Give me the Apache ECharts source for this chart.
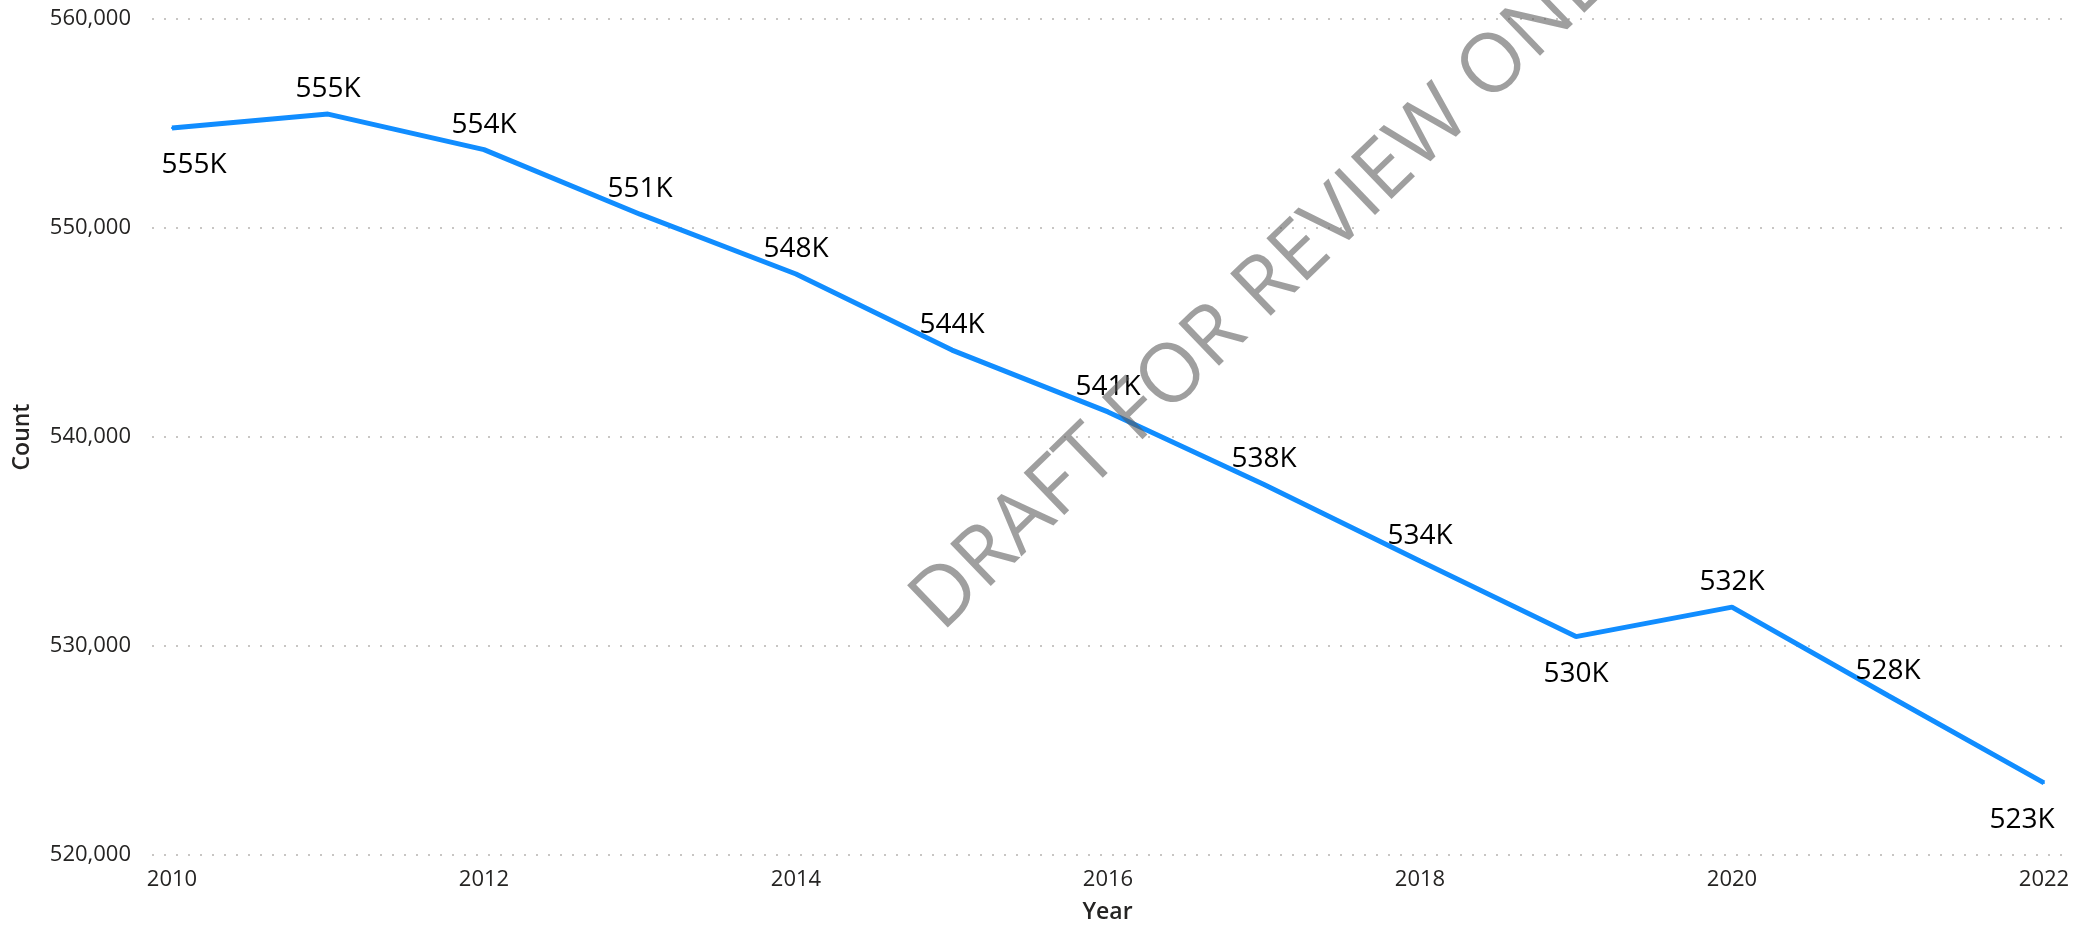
<!DOCTYPE html>
<html>
<head>
<meta charset="utf-8">
<style>
  html, body { margin: 0; padding: 0; background: #fff; }
  #main { width: 2073px; height: 929px; }
</style>
<script src="https://cdn.jsdelivr.net/npm/echarts@6/dist/echarts.min.js"></script>
</head>
<body>
<div id="main"></div>
<script>
// yearly counts
const years = [2010, 2011, 2012, 2013, 2014, 2015, 2016, 2017, 2018, 2019, 2020, 2021, 2022];
const counts = [554780, 555450, 553750, 550660, 547800, 544160, 541200, 537730, 534070, 530450, 531860, 527630, 523450];
const yearTicks = [2010, 2012, 2014, 2016, 2018, 2020, 2022];
const watermarkText = 'DRAFT FOR REVIEW ONLY';

let chart = echarts.init(document.getElementById('main'));

// label goes under the point when it is a local low
function isLow(i) {
  let v = counts[i];
  let prev = i > 0 ? counts[i - 1] : Infinity;
  let next = i < counts.length - 1 ? counts[i + 1] : Infinity;
  return v < prev && v < next;
}

let points = years.map((y, i) => {
  let low = isLow(i);
  let item = {
    value: [y, counts[i]],
    label: { position: low ? 'bottom' : 'top', distance: low ? 22 : 10 }
  };
  if (i === 0) item.label.offset = [22, 0];
  if (i === years.length - 1) item.label.offset = [-22, 0];
  return item;
});

chart.setOption({
  animation: false,
  grid: { left: 152, right: 10, top: 19, bottom: 72, containLabel: false },
  xAxis: {
    type: 'value',
    min: 2009.872,
    max: 2022.122,
    name: 'Year',
    nameLocation: 'middle',
    nameGap: 46,
    nameTextStyle: { fontFamily: 'Open Sans', fontSize: 23, fontWeight: 600, color: '#252423' },
    axisLine: { show: false },
    axisTick: { show: false },
    splitLine: { show: false },
    axisLabel: {
      customValues: yearTicks,
      margin: 14,
      fontFamily: 'Open Sans',
      fontSize: 22,
      color: '#252423',
      formatter: v => String(v)
    }
  },
  yAxis: {
    type: 'value',
    min: 520000,
    max: 560000,
    interval: 10000,
    name: 'Count',
    nameLocation: 'middle',
    nameGap: 118,
    nameTextStyle: { fontFamily: 'Open Sans', fontSize: 23, fontWeight: 600, color: '#252423' },
    axisLine: { show: false },
    axisTick: { show: false },
    axisLabel: {
      margin: 21,
      fontFamily: 'Open Sans',
      fontSize: 22,
      color: '#252423'
    },
    splitLine: {
      lineStyle: { color: '#c8c6c4', width: 2, type: [2, 10] }
    }
  },
  series: [{
    type: 'line',
    data: points,
    symbol: 'circle',
    symbolSize: 2,
    itemStyle: { color: '#118DFF' },
    lineStyle: { color: '#118DFF', width: 5 },
    label: {
      show: true,
      fontFamily: 'Open Sans',
      fontSize: 28,
      color: '#000',
      formatter: p => Math.round(p.value[1] / 1000) + 'K'
    }
  }],
  // watermark over the plot
  graphic: [{
    type: 'text',
    x: 1276,
    y: 278,
    rotation: 44 * Math.PI / 180,
    z: 100,
    silent: true,
    style: {
      text: watermarkText,
      fontFamily: 'Open Sans',
      fontWeight: 'normal',
      fontSize: 82,
      fill: 'rgba(90,90,90,0.58)',
      align: 'center',
      verticalAlign: 'middle'
    }
  }]
});

window.onresize = function () {
  chart.resize();
};
</script>
</body>
</html>
